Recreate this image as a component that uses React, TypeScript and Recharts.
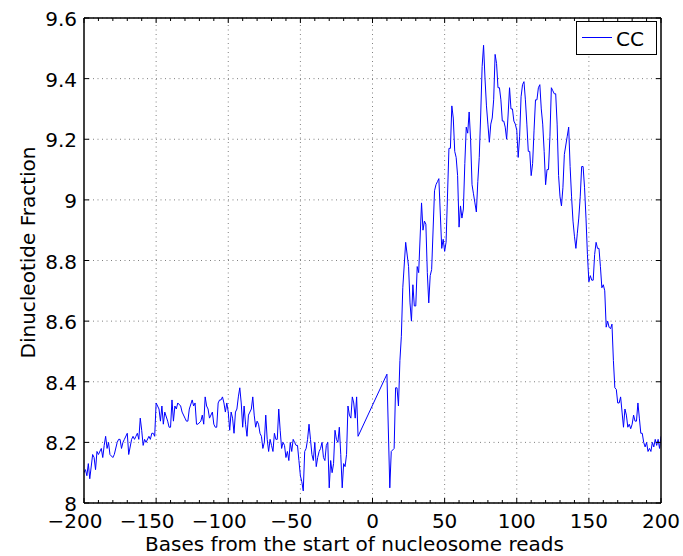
import React from 'react';
import { LineChart, Line, XAxis, YAxis, CartesianGrid, ReferenceLine, Legend, Label } from 'recharts';

// [base position, CC dinucleotide fraction]
const leftFlank: [number, number][] = [
  [-200, 8.10], [-199, 8.11], [-198, 8.09], [-197, 8.13], [-196, 8.08], [-194, 8.16], [-193, 8.15], [-192, 8.11],
  [-191, 8.17], [-190, 8.16], [-188, 8.18], [-187, 8.15], [-186, 8.19], [-185, 8.22], [-184, 8.18], [-183, 8.20],
  [-182, 8.16], [-180, 8.15], [-179, 8.16], [-177, 8.20], [-176, 8.21], [-175, 8.21], [-174, 8.18], [-173, 8.20],
  [-172, 8.21], [-170, 8.23], [-169, 8.16], [-167, 8.21], [-166, 8.22], [-165, 8.21], [-164, 8.22], [-163, 8.23],
  [-162, 8.21], [-161, 8.28], [-160, 8.24], [-159, 8.19], [-158, 8.21], [-157, 8.20], [-155, 8.22], [-154, 8.21],
  [-153, 8.23], [-152, 8.23], [-151, 8.22], [-150, 8.33], [-148, 8.31], [-147, 8.27], [-146, 8.32], [-145, 8.26],
  [-144, 8.30], [-142, 8.27], [-141, 8.25], [-140, 8.25], [-139, 8.34], [-138, 8.27], [-137, 8.32], [-136, 8.31],
  [-135, 8.33], [-133, 8.32], [-132, 8.30], [-130, 8.28], [-129, 8.27], [-128, 8.27], [-127, 8.31], [-125, 8.34],
  [-124, 8.32], [-123, 8.33], [-122, 8.26], [-121, 8.26], [-119, 8.27], [-118, 8.29], [-117, 8.26], [-116, 8.35],
  [-115, 8.32], [-114, 8.31], [-113, 8.28], [-111, 8.30], [-110, 8.26], [-109, 8.25],
];

const upstreamDip: [number, number][] = [
  [-108, 8.25], [-107, 8.33], [-106, 8.34], [-105, 8.34], [-104, 8.35], [-103, 8.33], [-102, 8.30], [-101, 8.33],
  [-100, 8.30], [-99, 8.24], [-98, 8.30], [-97, 8.28], [-96, 8.23], [-95, 8.30], [-94, 8.31], [-93, 8.35],
  [-92, 8.38], [-91, 8.33], [-90, 8.25], [-89, 8.32], [-88, 8.26], [-87, 8.22], [-86, 8.29], [-85, 8.30],
  [-84, 8.31], [-83, 8.35], [-82, 8.29], [-81, 8.25], [-80, 8.27], [-79, 8.26], [-78, 8.23], [-77, 8.22],
  [-76, 8.18], [-75, 8.20], [-74, 8.29], [-73, 8.21], [-72, 8.17], [-71, 8.21], [-70, 8.19], [-69, 8.17],
  [-68, 8.23], [-67, 8.21], [-66, 8.21], [-65, 8.31], [-64, 8.24], [-63, 8.18], [-62, 8.20], [-61, 8.19],
  [-60, 8.15], [-59, 8.17], [-58, 8.14], [-57, 8.20], [-56, 8.17], [-55, 8.21], [-54, 8.20], [-53, 8.19],
  [-52, 8.19], [-51, 8.14], [-50, 8.09], [-49, 8.07], [-48, 8.04], [-47, 8.17], [-46, 8.18], [-45, 8.21],
  [-44, 8.26], [-43, 8.21], [-42, 8.16], [-41, 8.14], [-40, 8.20], [-39, 8.12], [-38, 8.15], [-37, 8.17],
  [-36, 8.18], [-35, 8.20], [-34, 8.15], [-33, 8.14], [-32, 8.19], [-31, 8.20], [-30, 8.05], [-29, 8.14],
  [-28, 8.10], [-27, 8.13], [-26, 8.24], [-25, 8.21], [-24, 8.20], [-23, 8.25], [-22, 8.16], [-21, 8.05],
  [-20, 8.13], [-19, 8.12], [-18, 8.16], [-17, 8.32], [-16, 8.29], [-15, 8.28], [-14, 8.35], [-13, 8.33],
  [-12, 8.28], [-11, 8.35], [-10, 8.22],
];

const rise: [number, number][] = [
  [10, 8.425], [12, 8.05], [13, 8.17], [15, 8.18], [16, 8.38], [17, 8.38], [18, 8.32], [19, 8.47],
  [20, 8.55], [21, 8.71], [23, 8.86], [25, 8.78], [26, 8.66], [27, 8.60], [28, 8.72], [29, 8.65],
  [30, 8.65], [31, 8.78], [32, 8.76], [34, 8.99], [35, 8.90], [36, 8.93], [37, 8.92], [38, 8.76],
  [39, 8.66], [40, 8.75], [41, 8.77], [43, 9.03], [44, 9.05], [45, 9.06], [46, 9.07], [48, 8.84],
  [49, 8.87], [50, 8.83], [51, 8.86], [53, 9.17], [54, 9.17], [55, 9.31], [56, 9.27], [57, 9.16],
  [58, 9.14], [59, 9.08], [60, 8.91], [61, 8.98], [62, 8.94], [63, 8.97], [64, 9.12], [65, 9.24],
  [66, 9.22], [67, 9.29], [68, 9.20], [69, 9.05], [70, 9.02], [71, 8.99], [72, 8.96], [73, 9.06],
  [74, 9.14], [75, 9.28],
];

const plateau: [number, number][] = [
  [76, 9.44], [77, 9.51], [78, 9.40], [79, 9.31], [80, 9.25], [81, 9.19], [82, 9.25], [83, 9.27],
  [84, 9.33], [85, 9.48], [86, 9.45], [87, 9.37], [88, 9.37], [89, 9.33], [90, 9.26], [91, 9.26],
  [92, 9.24], [93, 9.20], [94, 9.28], [95, 9.37], [96, 9.30], [97, 9.30], [98, 9.26], [99, 9.25],
  [100, 9.23], [101, 9.14], [102, 9.21], [103, 9.34], [104, 9.38], [105, 9.39], [106, 9.33], [107, 9.25],
  [108, 9.16], [109, 9.16], [110, 9.08], [111, 9.12], [112, 9.23], [113, 9.33], [114, 9.33], [115, 9.37],
  [116, 9.38], [117, 9.30], [118, 9.25], [119, 9.16], [120, 9.05], [121, 9.10], [122, 9.10], [123, 9.21],
  [124, 9.37], [125, 9.36], [126, 9.35], [127, 9.35], [128, 9.25], [129, 9.08], [130, 9.01], [131, 8.98],
  [132, 9.04], [133, 9.15], [135, 9.21], [136, 9.24], [137, 9.11], [138, 9.01],
];

const fall: [number, number][] = [
  [139, 8.93], [140, 8.88], [141, 8.84], [142, 8.89], [143, 8.94], [144, 9.01], [145, 9.11], [146, 9.11],
  [147, 9.04], [148, 8.94], [149, 8.82], [150, 8.73], [151, 8.75], [152, 8.735], [153, 8.735], [154, 8.82],
  [155, 8.86], [156, 8.84], [157, 8.84], [158, 8.78], [159, 8.71], [160, 8.72], [161, 8.70], [162, 8.58],
  [163, 8.60], [164, 8.58], [165, 8.575], [166, 8.59], [167, 8.47], [168, 8.38], [169, 8.375], [170, 8.33],
  [171, 8.33], [172, 8.35], [173, 8.30], [174, 8.25], [175, 8.31], [176, 8.29], [177, 8.25], [178, 8.26],
  [179, 8.245], [180, 8.26], [181, 8.29], [182, 8.27], [183, 8.27], [184, 8.33], [185, 8.28], [186, 8.23],
  [187, 8.23], [188, 8.20], [189, 8.185], [190, 8.20], [191, 8.17], [192, 8.18], [193, 8.17], [194, 8.20],
  [195, 8.185], [196, 8.21], [197, 8.19], [198, 8.21], [199, 8.18], [200, 8.22],
];

const xTicks = [
  -200, -190, -180, -170, -160, -150, -140, -130, -120, -110, -100, -90, -80, -70, -60, -50, -40, -30, -20, -10,
  0, 10, 20, 30, 40, 50, 60, 70, 80, 90, 100, 110, 120, 130, 140, 150, 160, 170, 180, 190, 200,
];
const xGridTicks = [-150, -100, -50, 0, 50, 100, 150];
const yTicks = [8, 8.2, 8.4, 8.6, 8.8, 9, 9.2, 9.4, 9.6];
const seriesName = 'CC';
const xTitle = 'Bases from the start of nucleosome reads';
const yTitle = 'Dinucleotide Fraction';

const data = [...leftFlank, ...upstreamDip, ...rise, ...plateau, ...fall].map(([base, cc]) => ({ base, cc }));

const FONT = "'DejaVu Sans', sans-serif";
const AXIS_W = 1.5;

const fmtX = (v: number) => (v < 0 ? `\u2212${Math.abs(v)}` : `${v}`);

function BottomTick(props: any) {
  const { x, y, payload } = props;
  const v = payload.value;
  const major = v % 50 === 0;
  return (
    <g>
      <line x1={x} x2={x} y1={y} y2={y - (major ? 5 : 3)} stroke="#000" strokeWidth={1} />
      {major ? (
        <text x={x + (v < 0 ? -9 : 0)} y={y + 25} textAnchor="middle" fontFamily={FONT} fontSize={20} fill="#000">
          {fmtX(v)}
        </text>
      ) : null}
    </g>
  );
}

function TopTick(props: any) {
  const { x, y, payload } = props;
  const major = payload.value % 50 === 0;
  return <line x1={x} x2={x} y1={y} y2={y + (major ? 5 : 3)} stroke="#000" strokeWidth={1} />;
}

function LeftTick(props: any) {
  const { x, y, payload } = props;
  return (
    <g>
      <line x1={x} x2={x + 5} y1={y} y2={y} stroke="#000" strokeWidth={1} />
      <text x={x - 7} y={y + 8} textAnchor="end" fontFamily={FONT} fontSize={20} fill="#000">
        {String(payload.value)}
      </text>
    </g>
  );
}

function RightTick(props: any) {
  const { x, y } = props;
  return <line x1={x} x2={x - 5} y1={y} y2={y} stroke="#000" strokeWidth={1} />;
}

function XTitle(props: any) {
  const vb = props.viewBox;
  return (
    <text x={vb.x + vb.width / 2 - 18} y={vb.y + 48} textAnchor="middle" fontFamily={FONT} fontSize={20} fill="#000">
      {xTitle}
    </text>
  );
}

function YTitle(props: any) {
  const vb = props.viewBox;
  const cx = vb.x + 28;
  const cy = vb.y + vb.height / 2 - 8;
  return (
    <text
      x={cx}
      y={cy}
      transform={`rotate(-90 ${cx} ${cy})`}
      textAnchor="middle"
      dominantBaseline="central"
      fontFamily={FONT}
      fontSize={20}
      fill="#000"
    >
      {yTitle}
    </text>
  );
}

function LegendBox(props: any) {
  const item = (props.payload && props.payload[0]) || { value: seriesName, color: '#0000ff' };
  return (
    <svg width={81} height={34} style={{ display: 'block' }}>
      <rect x={0.5} y={0.5} width={80} height={33} fill="#fff" stroke="#000" strokeWidth={1} />
      <line x1={6} x2={36} y1={16.5} y2={16.5} stroke={item.color} strokeWidth={1} />
      <text x={40} y={25} fontFamily={FONT} fontSize={20} fill="#000">
        {item.value}
      </text>
    </svg>
  );
}

export default function App() {
  return (
    <div style={{ position: 'absolute', left: 0, top: 0, width: 683, height: 556, background: '#fff' }}>
      <LineChart width={683} height={556} data={data} margin={{ top: 0, right: 0, bottom: 0, left: 0 }}>
        <CartesianGrid
          xAxisId="bottom"
          yAxisId="left"
          vertical={false}
          stroke="#808080"
          strokeDasharray="1 3.5"
        />
        {xGridTicks.map((v) => (
          <ReferenceLine
            key={v}
            x={v}
            xAxisId="bottom"
            yAxisId="left"
            stroke="#808080"
            strokeDasharray="1 3.5"
          />
        ))}
        <XAxis
          xAxisId="bottom"
          dataKey="base"
          type="number"
          domain={[-200, 200]}
          ticks={xTicks}
          interval={0}
          orientation="bottom"
          height={53}
          tickSize={0}
          tickMargin={0}
          tickLine={false}
          axisLine={{ stroke: '#000', strokeWidth: AXIS_W }}
          tick={<BottomTick />}
          allowDataOverflow
        >
          <Label content={<XTitle />} />
        </XAxis>
        <XAxis
          xAxisId="top"
          dataKey="base"
          type="number"
          domain={[-200, 200]}
          ticks={xTicks}
          interval={0}
          orientation="top"
          height={18}
          tickSize={0}
          tickMargin={0}
          tickLine={false}
          axisLine={{ stroke: '#000', strokeWidth: AXIS_W }}
          tick={<TopTick />}
          allowDataOverflow
        />
        <YAxis
          yAxisId="left"
          type="number"
          domain={[8, 9.6]}
          ticks={yTicks}
          interval={0}
          orientation="left"
          width={84}
          tickSize={0}
          tickMargin={0}
          tickLine={false}
          axisLine={{ stroke: '#000', strokeWidth: AXIS_W }}
          tick={<LeftTick />}
          allowDataOverflow
        >
          <Label content={<YTitle />} />
        </YAxis>
        <YAxis
          yAxisId="right"
          type="number"
          domain={[8, 9.6]}
          ticks={yTicks}
          interval={0}
          orientation="right"
          width={22}
          tickSize={0}
          tickMargin={0}
          tickLine={false}
          axisLine={{ stroke: '#000', strokeWidth: AXIS_W }}
          tick={<RightTick />}
          allowDataOverflow
        />
        <Line
          xAxisId="bottom"
          yAxisId="left"
          type="linear"
          dataKey="cc"
          name={seriesName}
          stroke="#0000ff"
          strokeWidth={1}
          dot={false}
          activeDot={false}
          isAnimationActive={false}
        />
        <Legend
          layout="vertical"
          align="center"
          verticalAlign="middle"
          content={<LegendBox />}
          wrapperStyle={{ position: 'absolute', left: 576, top: 21, width: 81, height: 34 }}
        />
      </LineChart>
    </div>
  );
}
